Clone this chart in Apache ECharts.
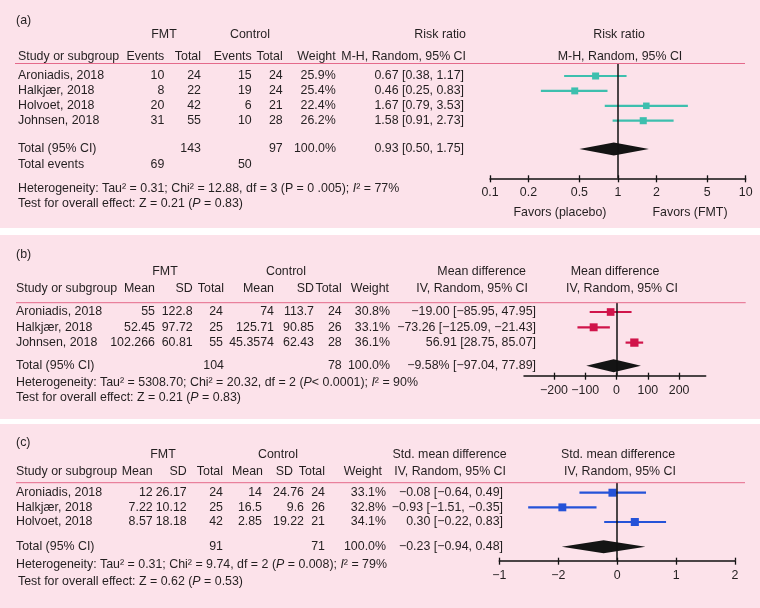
<!DOCTYPE html>
<html><head><meta charset="utf-8">
<script src="https://cdn.jsdelivr.net/npm/echarts@6/dist/echarts.min.js"></script>
<style>html,body{margin:0;padding:0;background:#fff}#c{width:760px;height:608px}</style>
</head><body><div id="c"></div>
<script>
// ---------- DATA ----------
// Panel (a) Risk ratio
const studiesA = ['Aroniadis, 2018', 'Halkjær, 2018', 'Holvoet, 2018', 'Johnsen, 2018'];
const fmtEventsA = [10, 8, 20, 31];
const fmtTotalA = [24, 22, 42, 55];
const ctlEventsA = [15, 19, 6, 10];
const ctlTotalA = [24, 24, 21, 28];
const weightA = [25.9, 25.4, 22.4, 26.2];
const rrA = [0.67, 0.46, 1.67, 1.58];
const rrLoA = [0.38, 0.25, 0.79, 0.91];
const rrHiA = [1.17, 0.83, 3.53, 2.73];
const totalA = { fmtN: 143, ctlN: 97, weight: 100.0, est: 0.93, lo: 0.50, hi: 1.75, fmtEvents: 69, ctlEvents: 50 };
const ticksA = [0.1, 0.2, 0.5, 1, 2, 5, 10];
const tickLabelsA = ['0.1', '0.2', '0.5', '1', '2', '5', '10'];

// Panel (b) Mean difference
const studiesB = ['Aroniadis, 2018', 'Halkjær, 2018', 'Johnsen, 2018'];
const fmtMeanB = [55, 52.45, 102.266];
const fmtSDB = [122.8, 97.72, 60.81];
const fmtNB = [24, 25, 55];
const ctlMeanB = [74, 125.71, 45.3574];
const ctlSDB = [113.7, 90.85, 62.43];
const ctlNB = [24, 26, 28];
const weightB = [30.8, 33.1, 36.1];
const mdB = [-19.00, -73.26, 56.91];
const mdLoB = [-85.95, -125.09, 28.75];
const mdHiB = [47.95, -21.43, 85.07];
const totalB = { fmtN: 104, ctlN: 78, weight: 100.0, est: -9.58, lo: -97.04, hi: 77.89 };
const ticksB = [-200, -100, 0, 100, 200];
const tickLabelsB = ['−200', '−100', '0', '100', '200'];

// Panel (c) Std. mean difference
const studiesC = ['Aroniadis, 2018', 'Halkjær, 2018', 'Holvoet, 2018'];
const fmtMeanC = [12, 7.22, 8.57];
const fmtSDC = [26.17, 10.12, 18.18];
const fmtNC = [24, 25, 42];
const ctlMeanC = [14, 16.5, 2.85];
const ctlSDC = [24.76, 9.6, 19.22];
const ctlNC = [24, 26, 21];
const weightC = [33.1, 32.8, 34.1];
const smdC = [-0.08, -0.93, 0.30];
const smdLoC = [-0.64, -1.51, -0.22];
const smdHiC = [0.49, -0.35, 0.83];
const totalC = { fmtN: 91, ctlN: 71, weight: 100.0, est: -0.23, lo: -0.94, hi: 0.48 };
const ticksC = [-2, -1, 0, 1, 2];
const tickLabelsC = ['−1', '−2', '0', '1', '2'];

// ---------- LAYOUT / STYLE ----------
const FONT = "'Liberation Sans', Arial, Helvetica, sans-serif";
const FS = 12.4;
const TXT = '#231f20';
const PINK = '#fce2ea';
const RULE = '#e4698b';
const colA = '#3dbfae', colB = '#d0144a', colC = '#2553d8';

const PA = { top: 63.5, axisY: 178.3, row0: 76, step: 14.9, totalY: 149, left: 490, right: 745.7 };
const PB = { top: 302.7, axisY: 375.7, row0: 312, step: 15.3, totalY: 365.7, left: 524, right: 705.7 };
const PC = { top: 482.7, axisY: 560.7, row0: 492.7, step: 14.65, totalY: 546.7, left: 499.3, right: 735 };
[PA, PB, PC].forEach(p => {
  p.yMin = (p.top - p.row0) / p.step;
  p.yMax = (p.axisY - p.row0) / p.step;
  p.totalRow = (p.totalY - p.row0) / p.step;
});

const minus = s => String(s).replace(/-/g, '−');
const f2 = v => minus(v.toFixed(2));
const ci = (e, l, h, suf) => f2(e) + (suf || '') + ' [' + f2(l) + ', ' + f2(h) + ']';
const pct = v => v.toFixed(1) + '%';

const G = [];
function T(x, y, text, align, extra) {
  G.push(Object.assign({
    type: 'text', x: x, y: y, z: 100, silent: true,
    style: { text: String(text), align: align || 'left', verticalAlign: 'middle', fill: TXT, fontSize: FS, fontFamily: FONT }
  }, extra || {}));
}
function R(text, x, y) {
  const base = { fontSize: FS, fontFamily: FONT, fill: TXT };
  G.push({
    type: 'text', x: x, y: y, z: 100, silent: true,
    style: Object.assign({ text: text, align: 'left', verticalAlign: 'middle',
      rich: { n: Object.assign({}, base), i: Object.assign({ fontStyle: 'italic' }, base) } }, base)
  });
}
function rect(y0, y1) {
  G.push({ type: 'rect', z: -10, silent: true, shape: { x: 0, y: y0, width: 760, height: y1 - y0 }, style: { fill: PINK } });
}
function hline(y, x0, x1) {
  G.push({ type: 'line', z: 50, silent: true, shape: { x1: x0, y1: y, x2: x1, y2: y }, style: { stroke: RULE, lineWidth: 1 } });
}

// backgrounds
rect(0, 228); rect(235, 419); rect(424, 608);

// ----- Panel (a) table -----
T(16, 21, '(a)');
T(164, 35, 'FMT', 'center'); T(250, 35, 'Control', 'center');
T(466, 35, 'Risk ratio', 'right'); T(619, 35, 'Risk ratio', 'center');
T(18, 57, 'Study or subgroup'); T(164.3, 57, 'Events', 'right'); T(201, 57, 'Total', 'right');
T(251.7, 57, 'Events', 'right'); T(282.7, 57, 'Total', 'right'); T(335.7, 57, 'Weight', 'right');
T(466, 57, 'M-H, Random, 95% CI', 'right'); T(620, 57, 'M-H, Random, 95% CI', 'center');
hline(PA.top, 15, 745);
studiesA.forEach((s, i) => {
  const y = PA.row0 + i * PA.step;
  T(18, y, s); T(164.3, y, fmtEventsA[i], 'right'); T(201, y, fmtTotalA[i], 'right');
  T(251.7, y, ctlEventsA[i], 'right'); T(282.7, y, ctlTotalA[i], 'right'); T(335.7, y, pct(weightA[i]), 'right');
  T(464, y, ci(rrA[i], rrLoA[i], rrHiA[i]), 'right');
});
T(18, PA.totalY, 'Total (95% CI)'); T(201, PA.totalY, totalA.fmtN, 'right'); T(282.7, PA.totalY, totalA.ctlN, 'right');
T(336, PA.totalY, pct(totalA.weight), 'right'); T(464, PA.totalY, ci(totalA.est, totalA.lo, totalA.hi), 'right');
T(18, 165, 'Total events'); T(164.3, 165, totalA.fmtEvents, 'right'); T(251.7, 165, totalA.ctlEvents, 'right');
R('{n|Heterogeneity: Tau² = 0.31; Chi² = 12.88, df = 3 (P = 0 .005); }{i|I}{n|² = 77%}', 18, 189);
R('{n|Test for overall effect: Z = 0.21 (}{i|P}{n| = 0.83)}', 18, 204);
T(560, 213, 'Favors (placebo)', 'center'); T(690, 213, 'Favors (FMT)', 'center');

// ----- Panel (b) table -----
T(16, 255, '(b)');
T(165, 271.7, 'FMT', 'center'); T(286, 271.7, 'Control', 'center');
T(526, 271.7, 'Mean difference', 'right'); T(615, 271.7, 'Mean difference', 'center');
T(16, 289, 'Study or subgroup'); T(155, 289, 'Mean', 'right'); T(192.7, 289, 'SD', 'right'); T(224, 289, 'Total', 'right');
T(274, 289, 'Mean', 'right'); T(314, 289, 'SD', 'right'); T(341.7, 289, 'Total', 'right'); T(389, 289, 'Weight', 'right');
T(528, 289, 'IV, Random, 95% CI', 'right'); T(622, 289, 'IV, Random, 95% CI', 'center');
hline(PB.top, 16, 745.7);
studiesB.forEach((s, i) => {
  const y = PB.row0 + i * PB.step;
  T(16, y, s); T(155, y, fmtMeanB[i], 'right'); T(192.7, y, fmtSDB[i], 'right'); T(223, y, fmtNB[i], 'right');
  T(274, y, ctlMeanB[i], 'right'); T(314, y, ctlSDB[i], 'right'); T(341.7, y, ctlNB[i], 'right');
  T(390, y, pct(weightB[i]), 'right'); T(536, y, ci(mdB[i], mdLoB[i], mdHiB[i]), 'right');
});
T(16, PB.totalY, 'Total (95% CI)'); T(224, PB.totalY, totalB.fmtN, 'right'); T(341.7, PB.totalY, totalB.ctlN, 'right');
T(390, PB.totalY, pct(totalB.weight), 'right'); T(536, PB.totalY, ci(totalB.est, totalB.lo, totalB.hi, '%'), 'right');
R('{n|Heterogeneity: Tau² = 5308.70; Chi² = 20.32, df = 2 (}{i|P}{n|< 0.0001); }{i|I}{n|² = 90%}', 16, 382.7);
R('{n|Test for overall effect: Z = 0.21 (}{i|P}{n| = 0.83)}', 16, 398);

// ----- Panel (c) table -----
T(16, 443, '(c)');
T(163, 455, 'FMT', 'center'); T(278, 455, 'Control', 'center');
T(506.7, 455, 'Std. mean difference', 'right'); T(618, 455, 'Std. mean difference', 'center');
T(16, 471.7, 'Study or subgroup'); T(152.7, 471.7, 'Mean', 'right'); T(186.7, 471.7, 'SD', 'right'); T(223, 471.7, 'Total', 'right');
T(263, 471.7, 'Mean', 'right'); T(293, 471.7, 'SD', 'right'); T(325, 471.7, 'Total', 'right'); T(382, 471.7, 'Weight', 'right');
T(506, 471.7, 'IV, Random, 95% CI', 'right'); T(620, 471.7, 'IV, Random, 95% CI', 'center');
hline(PC.top, 16, 745);
studiesC.forEach((s, i) => {
  const y = PC.row0 + i * PC.step;
  T(16, y, s); T(152.7, y, fmtMeanC[i], 'right'); T(186.7, y, fmtSDC[i], 'right'); T(223, y, fmtNC[i], 'right');
  T(262, y, ctlMeanC[i], 'right'); T(304, y, ctlSDC[i], 'right'); T(325, y, ctlNC[i], 'right');
  T(386, y, pct(weightC[i]), 'right'); T(503, y, ci(smdC[i], smdLoC[i], smdHiC[i]), 'right');
});
T(16, PC.totalY, 'Total (95% CI)'); T(223, PC.totalY, totalC.fmtN, 'right'); T(325, PC.totalY, totalC.ctlN, 'right');
T(386, PC.totalY, pct(totalC.weight), 'right'); T(503, PC.totalY, ci(totalC.est, totalC.lo, totalC.hi), 'right');
R('{n|Heterogeneity: Tau² = 0.31; Chi² = 9.74, df = 2 (}{i|P}{n| = 0.008); }{i|I}{n|² = 79%}', 16, 565);
R('{n|Test for overall effect: Z = 0.62 (}{i|P}{n| = 0.53)}', 18, 581.7);

// ---------- CHART ----------
function gridOf(p) {
  return { left: p.left, top: p.top, width: p.right - p.left, height: p.axisY - p.top, containLabel: false, outerBoundsMode: 'none' };
}
function xAxes(gi, type, min, max, ticks, labels) {
  const fmt = v => { const k = ticks.findIndex(t => Math.abs(t - v) < 1e-9); return k >= 0 ? labels[k] : ''; };
  const common = { gridIndex: gi, type: type, min: min, max: max, position: 'bottom', splitLine: { show: false } };
  if (type === 'log') common.logBase = 10;
  return [
    Object.assign({}, common, {
      axisLine: { show: true, onZero: false, lineStyle: { color: '#111', width: 1.5 } },
      axisTick: { show: true, inside: false, length: 4, customValues: ticks, lineStyle: { color: '#111', width: 1.3 } },
      axisLabel: { show: true, customValues: ticks, formatter: fmt, margin: 8.5, color: TXT, fontSize: FS, fontFamily: FONT, hideOverlap: false }
    }),
    Object.assign({}, common, {
      axisLine: { show: false, onZero: false },
      axisTick: { show: true, inside: true, length: 3, customValues: ticks, lineStyle: { color: '#111', width: 1.3 } },
      axisLabel: { show: false }
    })
  ];
}
function yAxisOf(gi, p) {
  return { gridIndex: gi, type: 'value', inverse: true, min: p.yMin, max: p.yMax, show: false };
}
function ciRender(color) {
  return function (params, api) {
    const est = api.value(0), lo = api.value(1), hi = api.value(2), row = api.value(3), w = api.value(4);
    const a = api.coord([lo, row]), b = api.coord([hi, row]), c = api.coord([est, row]);
    const s = Math.sqrt(w) * 1.38;
    return { type: 'group', children: [
      { type: 'line', shape: { x1: a[0], y1: a[1], x2: b[0], y2: b[1] }, style: { stroke: color, lineWidth: 2.2 } },
      { type: 'rect', shape: { x: c[0] - s / 2, y: c[1] - s / 2, width: s, height: s }, style: { fill: color } }
    ] };
  };
}
function diamondRender(params, api) {
  const est = api.value(0), lo = api.value(1), hi = api.value(2), row = api.value(3);
  const a = api.coord([lo, row]), b = api.coord([hi, row]), c = api.coord([est, row]);
  const h = 6.5;
  return { type: 'polygon', shape: { points: [[a[0], a[1]], [c[0], c[1] - h], [b[0], b[1]], [c[0], c[1] + h]] }, style: { fill: '#141414' } };
}
function seriesFor(gi, est, lo, hi, w, tot, p, color, nullVal) {
  const data = est.map((e, i) => [e, lo[i], hi[i], i, w[i]]);
  return [
    { type: 'custom', xAxisIndex: gi * 2, yAxisIndex: gi, renderItem: ciRender(color), data: data,
      encode: { x: [0, 1, 2], y: 3 }, clip: false, silent: true, z: 3,
      markLine: { silent: true, symbol: 'none', label: { show: false }, animation: false,
        lineStyle: { color: '#111', width: 1.5, type: 'solid' }, data: [{ xAxis: nullVal }] } },
    { type: 'custom', xAxisIndex: gi * 2, yAxisIndex: gi, renderItem: diamondRender,
      data: [[tot.est, tot.lo, tot.hi, p.totalRow]], encode: { x: [0, 1, 2], y: 3 }, clip: false, silent: true, z: 2 }
  ];
}

const chart = echarts.init(document.getElementById('c'), null, { renderer: 'canvas' });
chart.setOption({
  backgroundColor: '#ffffff',
  animation: false,
  grid: [gridOf(PA), gridOf(PB), gridOf(PC)],
  xAxis: [].concat(
    xAxes(0, 'log', 0.1, 10, ticksA, tickLabelsA),
    xAxes(1, 'value', -296, 285, ticksB, tickLabelsB),
    xAxes(2, 'value', -2, 2, ticksC, tickLabelsC)
  ),
  yAxis: [yAxisOf(0, PA), yAxisOf(1, PB), yAxisOf(2, PC)],
  series: [].concat(
    seriesFor(0, rrA, rrLoA, rrHiA, weightA, totalA, PA, colA, 1),
    seriesFor(1, mdB, mdLoB, mdHiB, weightB, totalB, PB, colB, 0),
    seriesFor(2, smdC, smdLoC, smdHiC, weightC, totalC, PC, colC, 0)
  ),
  graphic: { elements: G }
});
</script>
</body></html>
